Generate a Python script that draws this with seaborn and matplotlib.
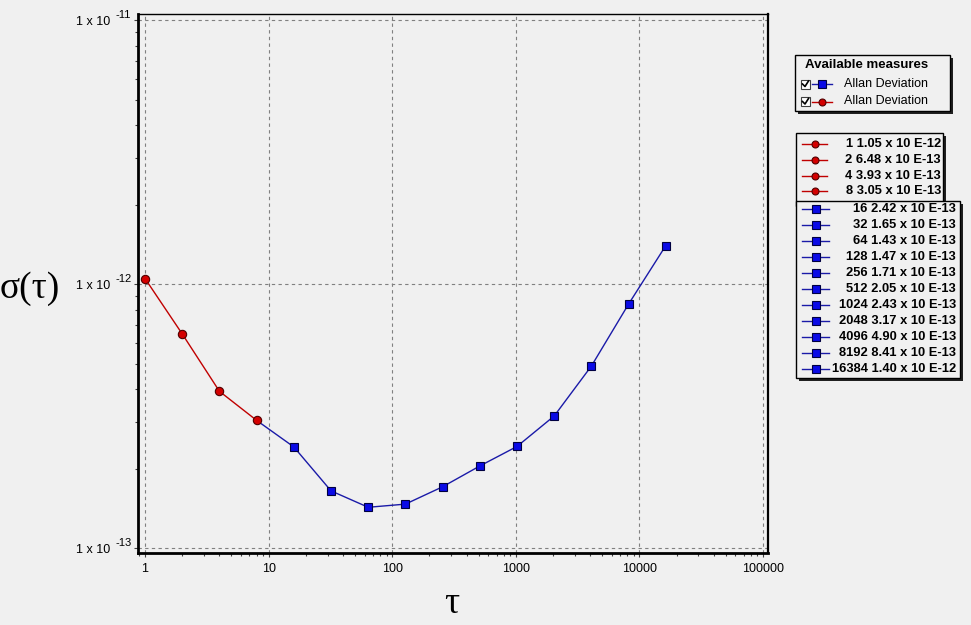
import matplotlib
matplotlib.use("Agg")
import pandas as pd
import matplotlib.pyplot as plt
import matplotlib.ticker as mticker
from matplotlib.lines import Line2D
from matplotlib.patches import Rectangle
import seaborn as sns

# -----------------------------------------------------------
# data
# -----------------------------------------------------------
tau_red = [1, 2, 4, 8]
adev_red = [1.05e-12, 6.48e-13, 3.93e-13, 3.05e-13]

tau_blue = [16, 32, 64, 128, 256, 512, 1024, 2048, 4096, 8192, 16384]
adev_blue = [2.42e-13, 1.65e-13, 1.43e-13, 1.47e-13, 1.71e-13, 2.05e-13,
             2.43e-13, 3.17e-13, 4.90e-13, 8.41e-13, 1.40e-12]

x_ticks = [1, 10, 100, 1000, 10000, 100000]
x_tick_labels = ["1", "10", "100", "1000", "10000", "100000"]
y_ticks = [1e-13, 1e-12, 1e-11]
y_tick_labels = ["1 x 10", "1 x 10", "1 x 10"]
y_tick_exps = ["-13", "-12", "-11"]

measures = ["Allan Deviation", "Allan Deviation"]
legend_title = "Available measures"

BG = "#f0f0f0"
RED = "#d40000"
RED_LINE = "#c00000"
RED_EDGE = "#500000"
BLUE = "#0a0ae6"
BLUE_LINE = "#1a1aa8"
BLUE_EDGE = "#000040"


def entry_label(t, v):
    s = f"{v:.2e}"
    m, e = s.split("e")
    return f"{t} {m} x 10 E{int(e)}"


plt.rcParams["font.family"] = ["Liberation Sans", "DejaVu Sans"]

W, H = 971, 625
fig = plt.figure(figsize=(W / 100, H / 100), dpi=100, facecolor=BG)


def fx(x):
    return x / W


def fy(y):
    return 1 - y / H


ax = fig.add_axes([fx(138), fy(553), (768 - 138) / W, (553 - 14) / H])
ax.set_facecolor(BG)
ax.set_xscale("log")
ax.set_yscale("log")

# blue segment starts at the last red point (line only there)
df_blue = pd.DataFrame({"tau": [tau_red[-1]] + tau_blue,
                        "adev": [adev_red[-1]] + adev_blue})
df_red = pd.DataFrame({"tau": tau_red, "adev": adev_red})

sns.lineplot(data=df_blue, x="tau", y="adev", ax=ax, color=BLUE_LINE, lw=1,
             marker="s", ms=6, mfc=BLUE, mec=BLUE_EDGE, mew=0.8,
             markevery=list(range(1, len(df_blue))), zorder=3)
sns.lineplot(data=df_red, x="tau", y="adev", ax=ax, color=RED_LINE, lw=1,
             marker="o", ms=6, mfc=RED, mec=RED_EDGE, mew=0.8, zorder=4)

ax.set_xlim(0.877, 110000)
ax.set_ylim(9.6e-14, 1.054e-11)
ax.set_xlabel("")
ax.set_ylabel("")

ax.xaxis.set_major_locator(mticker.FixedLocator(x_ticks))
ax.xaxis.set_major_formatter(mticker.FixedFormatter(x_tick_labels))
ax.yaxis.set_major_locator(mticker.FixedLocator(y_ticks))
ax.yaxis.set_major_formatter(mticker.FixedFormatter(y_tick_labels))
ax.xaxis.set_minor_locator(mticker.LogLocator(base=10, subs=range(2, 10), numticks=20))
ax.yaxis.set_minor_locator(mticker.LogLocator(base=10, subs=range(2, 10), numticks=20))
ax.xaxis.set_minor_formatter(mticker.NullFormatter())
ax.yaxis.set_minor_formatter(mticker.NullFormatter())

ax.tick_params(which="both", direction="out", colors="#404040", labelcolor="black",
               labelsize=9, width=0.8)
ax.tick_params(which="major", length=3)
ax.tick_params(which="minor", length=2.5)
ax.tick_params(axis="x", pad=4)
ax.tick_params(axis="y", pad=17)

# exponent of the y tick labels, written a bit higher like a superscript
for yt, ex in zip(y_ticks, y_tick_exps):
    ax.annotate(ex, xy=(fx(115.5), yt), xycoords=("figure fraction", "data"),
                xytext=(0, 3.5), textcoords="offset points", fontsize=8,
                ha="left", va="center", annotation_clip=False)

ax.grid(True, which="major", color="#808080", lw=0.8, ls=(0, (3, 3)))

for side, lw in [("left", 2.0), ("bottom", 2.0), ("top", 1.0), ("right", 1.6)]:
    ax.spines[side].set_linewidth(lw)
    ax.spines[side].set_color("black")

# axis titles
fig.text(fx(30), fy(289), "σ(τ)", family=["Liberation Serif", "DejaVu Serif"],
         fontsize=27, ha="center", va="center")
fig.text(fx(452), fy(604), "τ", family=["Liberation Serif", "DejaVu Serif"],
         fontsize=27, ha="center", va="center")


# -----------------------------------------------------------
# legend boxes (drawn by hand in figure pixels)
# -----------------------------------------------------------
def box(x0, y0, x1, y1, z):
    fig.patches.append(Rectangle((fx(x0 + 3), fy(y1 + 3)), (x1 - x0) / W, (y1 - y0) / H,
                                 transform=fig.transFigure, facecolor="#202020",
                                 edgecolor="none", zorder=z))
    fig.patches.append(Rectangle((fx(x0), fy(y1)), (x1 - x0) / W, (y1 - y0) / H,
                                 transform=fig.transFigure, facecolor=BG,
                                 edgecolor="black", lw=1, zorder=z + 0.1))


def handle(x0, x1, y, color, mfc, mec, marker, ms, z):
    fig.lines.append(Line2D([fx(x0), fx(x1)], [fy(y), fy(y)], transform=fig.transFigure,
                            color=color, lw=1, zorder=z))
    fig.lines.append(Line2D([fx((x0 + x1) / 2)], [fy(y)], transform=fig.transFigure,
                            marker=marker, ms=ms, mfc=mfc, mec=mec, mew=0.8,
                            ls="none", zorder=z))


# available measures box
box(795, 55, 950, 111, 5)
fig.text(fx(805), fy(65), legend_title, fontsize=9.5, fontweight="bold",
         ha="left", va="center", zorder=6)
meas_style = [(BLUE_LINE, BLUE, BLUE_EDGE, "s", 5.5), (RED_LINE, RED, RED_EDGE, "o", 5)]
for i, (name, st) in enumerate(zip(measures, meas_style)):
    yc = 84 + i * 17.5
    fig.patches.append(Rectangle((fx(801), fy(yc + 4.5)), 9 / W, 9 / H,
                                 transform=fig.transFigure, facecolor="white",
                                 edgecolor="#404040", lw=0.8, zorder=6))
    fig.lines.append(Line2D([fx(802.5), fx(805), fx(808.5)],
                            [fy(yc), fy(yc + 2.5), fy(yc - 3)],
                            transform=fig.transFigure, color="black", lw=1.2, zorder=6.5))
    handle(812, 832, yc, st[0], st[1], st[2], st[3], st[4], 6)
    fig.text(fx(844), fy(yc), name, fontsize=9, ha="left", va="center", zorder=6)

# red values box
box(796, 133, 943, 206, 7)
for i, (t, v) in enumerate(zip(tau_red, adev_red)):
    yc = 144.3 + i * 15.67
    handle(802, 827, yc, RED_LINE, RED, RED_EDGE, "o", 5, 8)
    fig.text(fx(941), fy(yc), entry_label(t, v), fontsize=9.3, fontweight="bold",
             ha="right", va="center", zorder=8)

# blue values box
box(796, 201, 960, 378, 9)
for i, (t, v) in enumerate(zip(tau_blue, adev_blue)):
    yc = 209.3 + i * 16.0
    handle(802, 829, yc, BLUE_LINE, BLUE, BLUE_EDGE, "s", 5.5, 10)
    fig.text(fx(956), fy(yc), entry_label(t, v), fontsize=9.3, fontweight="bold",
             ha="right", va="center", zorder=10)

fig.savefig("out.png", dpi=100, facecolor=BG)
